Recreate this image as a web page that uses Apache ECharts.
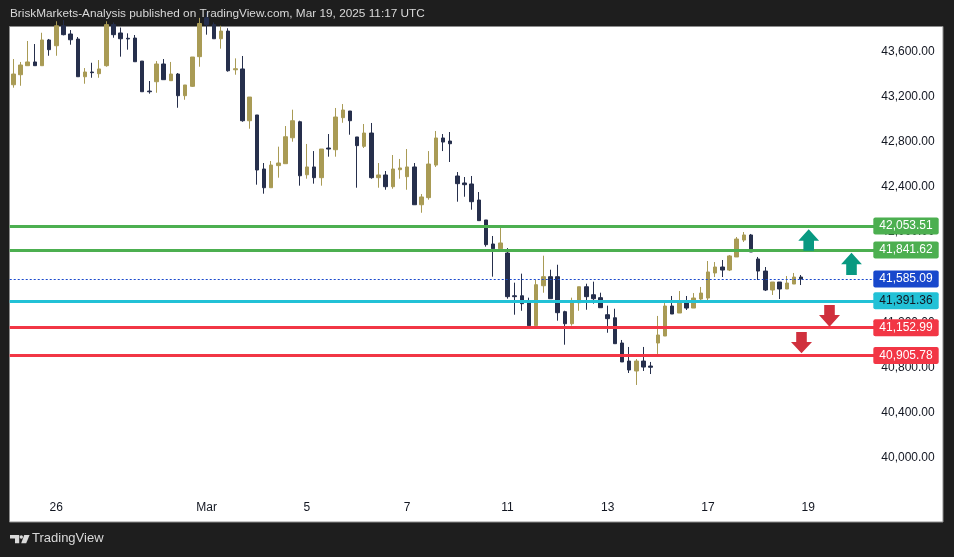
<!DOCTYPE html>
<html>
<head>
<meta charset="utf-8">
<script src="https://cdn.jsdelivr.net/npm/echarts@6/dist/echarts.min.js"></script>
<style>
html,body{margin:0;padding:0;background:#1e1e1e;}
#chart{width:954px;height:557px;}
</style>
</head>
<body>
<div id="chart"></div>
<script>
// ---- data ----
// candles: [open, close, low, high]
const candles = [
[43307,43402,43281,43535],[43396,43482,43298,43509],[43476,43509,43476,43695],[43509,43476,43476,43668],
[43476,43704,43476,43768],[43704,43618,43564,43713],[43653,43830,43564,43870],[43830,43751,43745,43880],
[43757,43706,43662,43792],[43712,43378,43378,43730],[43378,43420,43316,43455],[43420,43414,43369,43502],
[43405,43447,43369,43526],[43476,43840,43467,43870],[43840,43751,43724,43860],[43766,43715,43556,43814],
[43719,43713,43618,43763],[43721,43511,43511,43748],[43517,43245,43245,43517],[43251,43245,43228,43340],
[43334,43491,43236,43517],[43491,43352,43352,43535],[43343,43402,43343,43509],[43402,43210,43103,43411],
[43210,43305,43174,43305],[43293,43553,43287,43553],[43556,43850,43467,43900],[43900,43840,43751,43950],
[43840,43715,43715,43860],[43715,43783,43627,43830],[43783,43431,43423,43808],[43440,43449,43396,43541],
[43447,42988,42979,43562],[42988,43198,42917,43198],[43039,42551,42421,43039],[42560,42394,42341,42613],
[42394,42595,42394,42631],[42590,42613,42483,42758],[42607,42846,42607,42941],[42837,42988,42802,43086],
[42979,42500,42412,42988],[42509,42578,42474,42782],[42578,42483,42430,42719],[42483,42737,42412,42737],
[42746,42737,42669,42870],[42731,43021,42669,43101],[43015,43083,42970,43136],[43074,42988,42864,43074],
[42844,42767,42394,42844],[42761,42879,42746,42959],[42879,42483,42474,42968],[42483,42507,42394,42613],
[42507,42403,42376,42542],[42403,42560,42385,42684],[42554,42569,42474,42649],[42492,42578,42376,42737],
[42578,42243,42243,42613],[42243,42312,42172,42338],[42306,42604,42288,42719],[42595,42835,42578,42897],
[42835,42799,42719,42870],[42808,42784,42622,42888],[42498,42430,42270,42533],[42436,42421,42314,42489],
[42427,42270,42199,42498],[42285,42102,42102,42356],[42108,41889,41871,42108],[41895,41853,41605,41966],
[41853,41904,41844,42046],[41815,41428,41410,41859],[41436,41428,41268,41552],[41436,41366,41303,41632],
[41383,41171,41171,41419],[41171,41534,41171,41578],[41525,41605,41463,41791],[41605,41410,41410,41667],
[41605,41286,41215,41711],[41295,41188,41002,41303],[41188,41383,41171,41419],[41374,41516,41303,41516],
[41516,41428,41312,41543],[41445,41410,41366,41561],[41419,41330,41330,41463],[41268,41233,41108,41348],
[41241,41011,41011,41321],[41017,40849,40849,41044],[40857,40778,40751,40982],[40769,40857,40645,40875],
[40857,40804,40769,40982],[40813,40802,40742,40849],[41017,41088,40920,41257],[41079,41345,41079,41381],
[41345,41274,41274,41434],[41283,41390,41283,41478],[41390,41327,41310,41434],[41327,41416,41327,41460],
[41407,41460,41390,41514],[41416,41647,41398,41744],[41638,41691,41602,41735],[41691,41664,41602,41753],
[41664,41789,41655,41797],[41780,41939,41780,41957],[41930,41975,41913,42001],[41975,41824,41824,41984],
[41762,41655,41576,41780],[41655,41487,41478,41691],[41487,41558,41443,41558],[41558,41496,41407,41558],
[41496,41549,41496,41611],[41540,41602,41540,41638],[41602,41585.09,41531,41620]
];
const slotCount = 121;               // candle slots on the time axis (incl. empty future space)
const tickIndex = [6, 27, 41, 55, 69, 83, 97, 111];
const tickText  = ['26', 'Mar', '5', '7', '11', '13', '17', '19'];
const priceTicks = [40000, 40400, 40800, 41200, 41600, 42000, 42400, 42800, 43200, 43600];
const greenLevels = [42053.51, 41841.62];
const cyanLevels = [41391.36];
const redLevels = [41152.99, 40905.78];
const lastPrice = 41585.09;

// ---- helpers ----
function fmt(v){
  const s = v.toFixed(2);
  const [a,b] = s.split('.');
  return a.replace(/\B(?=(\d{3})+(?!\d))/g, ',') + '.' + b;
}
const categories = [];
for (let i = 0; i < slotCount; i++) categories.push(String(i));

const slot = 7.162;
const gridLeft = 9.72, gridTop = 27.3, gridH = 462.7;
const gridW = slotCount * slot;
const yMax = 43816.4, yMin = 39713.7;
const FONT = 'Liberation Sans, Arial, sans-serif';

const tagBase = {show:true, position:'end', distance:-3, fontSize:12, fontFamily:FONT,
  padding:[2,6,1,6], lineHeight:14, borderRadius:2, formatter: p => fmt(p.value)};
function lvl(v, color, textColor, lineType, width){
  return {yAxis:v, lineStyle:{color:color, width:width, type:lineType},
    label:Object.assign({}, tagBase, {backgroundColor:color, color:textColor})};
}
const mlData = [];
greenLevels.forEach(v => mlData.push(lvl(v, '#4caf50', '#ffffff', 'solid', 3)));
mlData.push(lvl(lastPrice, '#1848cc', '#ffffff', [2,2], 1.2));
cyanLevels.forEach(v => mlData.push(lvl(v, '#22c1d6', '#131722', 'solid', 3)));
redLevels.forEach(v => mlData.push(lvl(v, '#f23645', '#ffffff', 'solid', 3)));

const teal = '#089981', red = '#d0303d';
function upArrow(cx, top, base, bottom){
  return {type:'polygon', z:100, silent:true, shape:{points:[[cx,top],[cx+10.4,base],[cx+5.3,base],[cx+5.3,bottom],[cx-5.3,bottom],[cx-5.3,base],[cx-10.4,base]]}, style:{fill:teal}};
}
function downArrow(cx, top, base, tip){
  return {type:'polygon', z:100, silent:true, shape:{points:[[cx-5.3,top],[cx+5.3,top],[cx+5.3,base],[cx+10.5,base],[cx,tip],[cx-10.5,base],[cx-5.3,base]]}, style:{fill:red}};
}

const chart = echarts.init(document.getElementById('chart'), null, {renderer:'canvas'});
chart.setOption({
  animation:false,
  backgroundColor:'#1e1e1e',
  grid:{left:gridLeft, top:gridTop, width:gridW, height:gridH, containLabel:false, outerBoundsMode:'none'},
  xAxis:{
    type:'category', data:categories, boundaryGap:true,
    axisLine:{show:false}, axisTick:{show:false}, splitLine:{show:false},
    axisLabel:{
      margin:12, color:'#131722', fontSize:12, fontFamily:FONT,
      interval:(idx) => tickIndex.indexOf(idx) >= 0,
      formatter:(val, idx) => { const k = tickIndex.indexOf(idx); return k >= 0 ? tickText[k] : ''; }
    }
  },
  yAxis:{
    type:'value', position:'right', min:yMin, max:yMax, scale:true,
    axisLine:{show:false}, axisTick:{show:false}, splitLine:{show:false},
    axisLabel:{margin:5, color:'#131722', fontSize:12, fontFamily:FONT,
      customValues:priceTicks, formatter:v => fmt(v)}
  },
  series:[{
    type:'candlestick', data:candles, barWidth:4, clip:true,
    itemStyle:{color:'#a99b55', color0:'#262f4c', borderColor:'#a99b55', borderColor0:'#262f4c', borderWidth:1},
    markLine:{silent:true, symbol:['none','none'], animation:false, data:mlData}
  }],
  graphic:[
    {type:'rect', z:-10, zlevel:0, silent:true, shape:{x:9.5, y:26.5, width:933.5, height:495.5},
      style:{fill:'#ffffff', stroke:'#8d8d8d', lineWidth:1}},
    {type:'text', z:100, left:10, top:8, silent:true,
      style:{text:'BriskMarkets-Analysis published on TradingView.com, Mar 19, 2025 11:17 UTC',
        fill:'#d9d9d9', fontSize:11.8, fontFamily:FONT}},
    {type:'polygon', z:100, silent:true, shape:{points:[[10,535],[19.2,535],[19.2,543.3],[15,543.3],[15,538.6],[10,538.6]]}, style:{fill:'#d9d9d9'}},
    {type:'circle', z:100, silent:true, shape:{cx:21.3, cy:537, r:1.7}, style:{fill:'#d9d9d9'}},
    {type:'polygon', z:100, silent:true, shape:{points:[[24.2,535],[29.6,535],[26.2,543.3],[21.2,543.3]]}, style:{fill:'#d9d9d9'}},
    {type:'text', z:100, left:32, top:532, silent:true,
      style:{text:'TradingView', fill:'#d9d9d9', fontSize:13, fontFamily:FONT}},
    upArrow(808.7, 229.3, 240.7, 250.7),
    upArrow(851.5, 252.7, 264.3, 275),
    downArrow(829.5, 305, 315, 326.7),
    downArrow(801.5, 332, 342, 353.3)
  ]
});
</script>
</body>
</html>
